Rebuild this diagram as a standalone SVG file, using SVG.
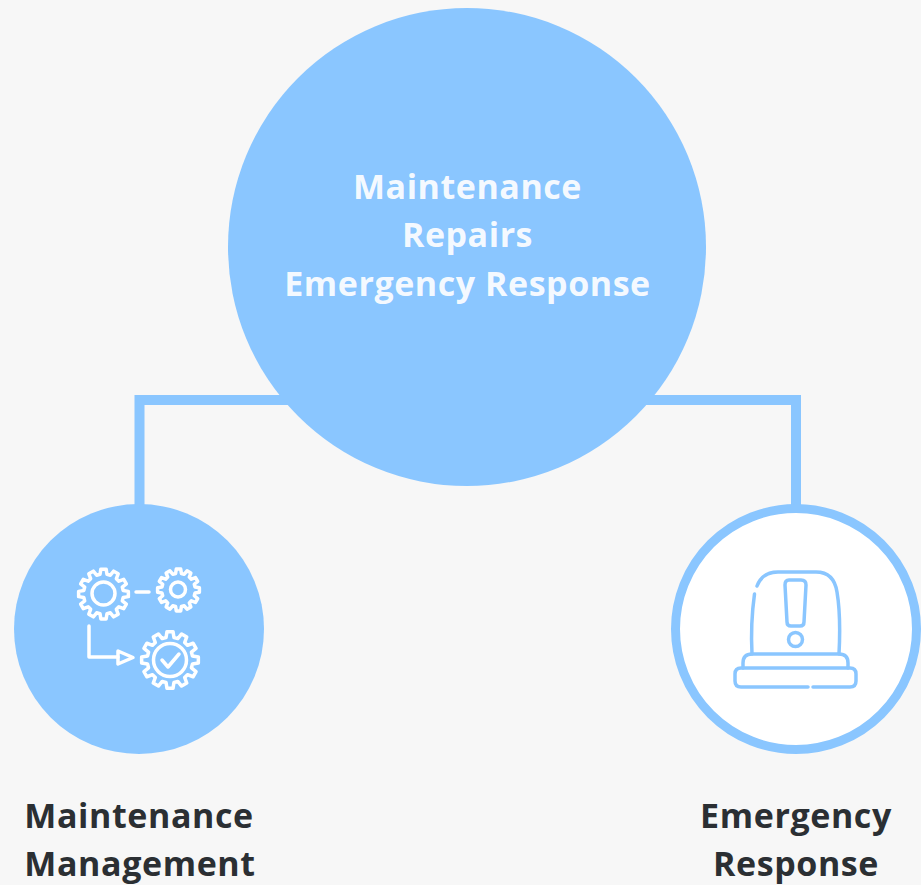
<svg xmlns="http://www.w3.org/2000/svg" width="921" height="885" viewBox="0 0 921 885">
<style>
.hub{font-family:"Open Sans","Liberation Sans",sans-serif;font-weight:700;font-size:34px;letter-spacing:.55px;fill:#fff;fill-opacity:.92;text-anchor:middle}
.lab{font-family:"Open Sans","Liberation Sans",sans-serif;font-weight:700;font-size:34px;letter-spacing:.6px;fill:#2b2f33;text-anchor:middle}
.wire{fill:none;stroke:#8ac6ff;stroke-width:10}
.gl{fill:none;stroke:#fff;stroke-width:3.500;stroke-linecap:round;stroke-linejoin:round}
.al{fill:none;stroke:#8ac6ff;stroke-width:3.500;stroke-linecap:round;stroke-linejoin:round}
</style>
<defs>
<path id="gear" vector-effect="non-scaling-stroke" d="M-13.900-78.800L-10.500-99.500L10.500-99.500L13.900-78.800L27.400-75.200L40.700-91.400L58.800-80.900L51.400-61.300L61.300-51.400L80.900-58.800L91.400-40.700L75.200-27.400L78.800-13.900L99.500-10.500L99.500 10.500L78.800 13.900L75.200 27.400L91.400 40.700L80.900 58.800L61.300 51.400L51.400 61.300L58.800 80.900L40.700 91.400L27.400 75.200L13.900 78.800L10.500 99.500L-10.500 99.500L-13.900 78.800L-27.400 75.200L-40.700 91.400L-58.800 80.900L-51.400 61.300L-61.300 51.400L-80.900 58.800L-91.400 40.700L-75.200 27.400L-78.800 13.900L-99.500 10.500L-99.500-10.500L-78.800-13.900L-75.200-27.400L-91.400-40.700L-80.900-58.800L-61.300-51.400L-51.400-61.300L-58.800-80.900L-40.700-91.400L-27.400-75.200Z"/>
</defs>
<rect width="921" height="885" fill="#f7f7f7"/>
<g id="connectors">
<path class="wire" d="M139.500 510V400H300"/>
<path class="wire" d="M640 400H796V510"/>
</g>
<g id="hub">
<circle cx="467" cy="247" r="239" fill="#8ac6ff"/>
<text class="hub" x="467.500" y="198.500">Maintenance</text>
<text class="hub" x="467.500" y="246.500">Repairs</text>
<text class="hub" x="467.500" y="295.500">Emergency Response</text>
</g>
<g id="maintenance-management">
<circle cx="139" cy="629" r="125" fill="#8ac6ff"/>
<g class="gl">
<use href="#gear" transform="translate(103.500 594) scale(.25)"/>
<circle cx="103.500" cy="593.500" r="11.500"/>
<path d="M136 592H149"/>
<use href="#gear" transform="translate(178.500 590) scale(.21)"/>
<circle cx="178" cy="589.500" r="7.500"/>
<path d="M89 626V657H118"/>
<path d="M118 651L133 657.500L118 664Z"/>
<use href="#gear" transform="translate(170 660) scale(.285)"/>
<circle cx="170" cy="660" r="16.500"/>
<path d="M162 660L168 667L179 654"/>
</g>
<text class="lab" x="139" y="827.500">Maintenance</text>
<text class="lab" x="140" y="875.500">Management</text>
</g>
<g id="emergency-response">
<circle cx="796" cy="629" r="120.500" fill="#fff" stroke="#8ac6ff" stroke-width="9"/>
<g class="al">
<path d="M757 586C760 578 767 572 778 572H816C828 572 835 579 837 592C840 610 840 635 839 654"/>
<path d="M754.500 594C752 612 751 635 752 654"/>
<path d="M789 580H801Q806 580 806 585L804 622Q804 626 800 626H791Q787 626 787 622L785 585Q785 580 789 580Z"/>
<circle cx="795.500" cy="639.500" r="7"/>
<path d="M743 668V663Q743 654 752 654H839Q848 654 848 663V668"/>
<path d="M808 687H741Q735 687 735 681V674Q735 668 741 668H850Q856 668 856 674V681Q856 687 850 687H813"/>
</g>
<text class="lab" x="796" y="827.500">Emergency</text>
<text class="lab" x="796" y="875.500">Response</text>
</g>
</svg>
